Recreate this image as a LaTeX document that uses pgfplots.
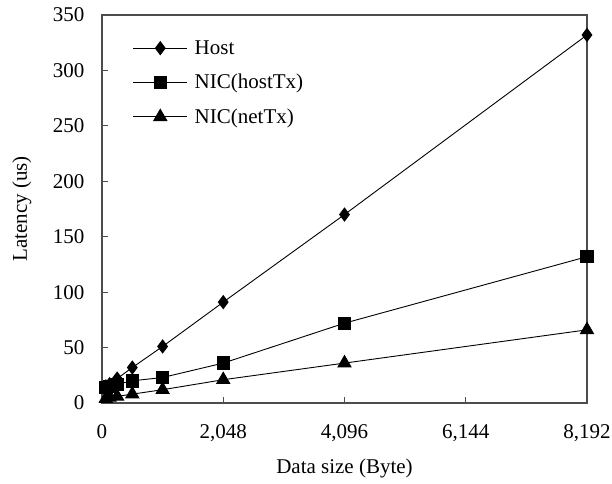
\documentclass[border=0pt]{standalone}
\usepackage{fontspec}
\setmainfont{Liberation Serif}
\usepackage{pgfplots}
\pgfplotsset{compat=1.18}

\begin{document}
\begin{tikzpicture}[font=\fontsize{21bp}{25bp}\selectfont]
\path[use as bounding box] (-102bp,-81bp) rectangle (510bp,403bp);
\begin{axis}[
  scale only axis, width=485bp, height=388bp,
  xmin=0, xmax=8192, ymin=0, ymax=350,
  xtick={0,2048,4096,6144,8192}, ytick={0,50,...,350},
  tick pos=left, tick align=inside, major tick length=6bp,
  axis line style={black!70, line width=1.1bp},
  every tick/.style={black!70, line width=1bp},
  /pgf/number format/assume math mode=true,
  /pgf/number format/1000 sep={,},
  scaled ticks=false,
  xticklabel style={yshift=-18bp},
  yticklabel style={xshift=-14bp},
  xlabel={Data size (Byte)}, ylabel={Latency (us)},
  xlabel style={at={(axis description cs:0.5,-0.1675)}, anchor=center},
  ylabel style={at={(axis description cs:-0.165,0.5)}, anchor=center},
  legend style={draw=none, fill=none, at={(axis description cs:0.057,0.945)},
    anchor=north west, row sep=14.5bp, cells={anchor=west},
    /tikz/every odd column/.append style={column sep=5bp},
    font=\fontsize{21bp}{25bp}\selectfont},
  legend image code/.code={%
    \draw[mark repeat=2,mark phase=2,#1] plot coordinates {(0bp,0bp)(27bp,0bp)(54bp,0bp)};},
]
\addplot[black, line width=0.9bp, mark=diamond*, mark size=6.5bp,
  mark options={solid, fill=black}] coordinates {
  (64,15)(128,17)(256,22)(512,32)(1024,51)(2048,91)(4096,170)(8192,332)};
\addlegendentry{Host}
\addplot[black, line width=0.9bp, mark=square*, mark size=6.2bp,
  mark options={solid, fill=black}] coordinates {
  (64,14)(128,15)(256,17)(512,20)(1024,23)(2048,36)(4096,72)(8192,132)};
\addlegendentry{NIC(hostTx)}
\addplot[black, line width=0.9bp, mark=triangle*, mark size=7.5bp,
  mark options={solid, fill=black}] coordinates {
  (64,4)(128,5)(256,6)(512,8)(1024,12)(2048,21)(4096,36)(8192,66)};
\addlegendentry{NIC(netTx)}
\end{axis}
\end{tikzpicture}
\end{document}
